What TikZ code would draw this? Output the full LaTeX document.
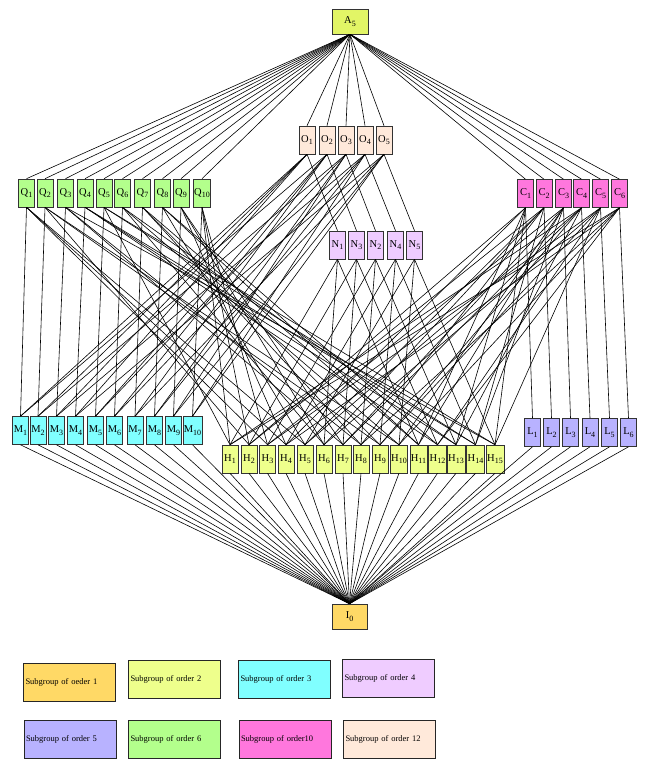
\documentclass[tikz,border=0pt]{standalone}
\usepackage{fontspec}
\setmainfont{Liberation Serif}
\definecolor{ordone}{HTML}{FFD966}
\definecolor{ordtwo}{HTML}{EEFF8C}
\definecolor{ordthree}{HTML}{80FFFF}
\definecolor{ordfour}{HTML}{EFCCFF}
\definecolor{ordfive}{HTML}{B8B2FF}
\definecolor{ordsix}{HTML}{B3FF8C}
\definecolor{ordten}{HTML}{FF77DD}
\definecolor{ordtwelve}{HTML}{FFE9DA}
\definecolor{ordsixty}{HTML}{E2F566}
\newcommand\sg[2]{#1\raisebox{-.5ex}{\fontsize{8}{8}\selectfont#2}}
\tikzset{
  grp/.style={draw=black!80, line width=.6pt, minimum width=16pt, minimum height=28pt, inner sep=1pt, font=\fontsize{10.5}{12}\selectfont},
  key/.style={draw=black!85, line width=.7pt, text width=88pt, minimum height=38pt, inner sep=2pt, align=left, font=\fontsize{8.5}{10}\selectfont},
  hasse/.style={line width=.6pt}
}

\begin{document}
\begin{tikzpicture}[x=1pt,y=-1pt]
\useasboundingbox (0,0) rectangle (646,767);
\node[grp, fill=ordsixty, minimum width=36pt, minimum height=25pt] (A) at (350,21.5) {\sg{A}{5}};
\foreach \x [count=\i] in {307,327,346,365,384}
  \node[grp, fill=ordtwelve] (O\i) at (\x,140) {\sg{O}{\i}};
\foreach \x [count=\i] in {26.5,45,65.5,85,104,122.5,142.5,162.5,181,202}
  \node[grp, fill=ordsix] (Q\i) at (\x,193) {\sg{Q}{\i}};
\foreach \x [count=\i] in {525.5,544,563.5,581.5,600.5,619.5}
  \node[grp, fill=ordten] (C\i) at (\x,193.5) {\sg{C}{\i}};
\foreach \x/\i in {337.5/1,356.5/3,375.5/2,395.5/4,414.5/5}
  \node[grp, fill=ordfour] (N\i) at (\x,245) {\sg{N}{\i}};
\foreach \x [count=\i] in {20.5,38,56.5,75.5,95.5,114.5,135,154.5,173.5,192.5}
  \node[grp, fill=ordthree] (M\i) at (\x,430.5) {\sg{M}{\i}};
\foreach \x [count=\i] in {230,249,267.5,286,305,324,343,361,380,399,418.5,437.5,456,475.5,495}
  \node[grp, fill=ordtwo] (H\i) at (\x,459) {\sg{H}{\i}};
\foreach \x [count=\i] in {532.5,551.5,570.5,590,609.5,628.5}
  \node[grp, fill=ordfive] (L\i) at (\x,432.5) {\sg{L}{\i}};
\node[grp, fill=ordone, minimum width=35pt, minimum height=25pt] (I) at (349.5,616.5) {\sg{I}{0}};

\foreach \i in {1,...,10} \draw[hasse] (A.south) -- (Q\i.north);
\foreach \i in {1,...,5} \draw[hasse] (A.south) -- (O\i.north);
\foreach \i in {1,...,6} \draw[hasse] (A.south) -- (C\i.north);
\foreach \o/\n in {1/1,2/3,3/2,4/4,5/5} \draw[hasse] (O\o.south) -- (N\n.north);
\foreach \o/\ms in {1/{1,2,3,4},2/{1,5,6,7},3/{2,5,8,9},4/{3,6,8,10},5/{4,7,9,10}}
  \foreach \m in \ms \draw[hasse] (O\o.south) -- (M\m.north);
\foreach \i in {1,...,10} \draw[hasse] (Q\i.south) -- (M\i.north);
\foreach \q/\hs in {1/{3,4,5},2/{2,9,10},3/{7,8,15},4/{12,13,14},5/{1,14,15},6/{6,10,13},7/{8,9,11},8/{5,11,12},9/{4,6,7},10/{1,2,3}}
  \foreach \h in \hs \draw[hasse] (Q\q.south) -- (H\h.north);
\foreach \i in {1,...,6} \draw[hasse] (C\i.south) -- (L\i.north);
\foreach \c/\hs in {1/{2,4,11,13,15},2/{2,5,6,8,14},3/{3,7,10,11,14},4/{1,5,7,9,13},5/{3,6,9,12,15},6/{1,4,8,10,12}}
  \foreach \h in \hs \draw[hasse] (C\c.south) -- (H\h.north);
\foreach \n/\hs in {1/{1,6,11},3/{2,7,12},2/{3,8,13},4/{4,9,14},5/{5,10,15}}
  \foreach \h in \hs \draw[hasse] (N\n.south) -- (H\h.north);
\foreach \i in {1,...,10} \draw[hasse] (M\i.south) -- (I.north);
\foreach \i in {1,...,15} \draw[hasse] (H\i.south) -- (I.north);
\foreach \i in {1,...,6} \draw[hasse] (L\i.south) -- (I.north);

\node[key, fill=ordone] (k1) at (69.5,682) {Subgroup of oeder 1};
\node[key, fill=ordtwo] (k2) at (174.5,679) {Subgroup of order 2};
\node[key, fill=ordthree] (k3) at (284.5,679) {Subgroup of order 3};
\node[key, fill=ordfour] (k4) at (388.5,678) {Subgroup of order 4};
\node[key, fill=ordfive] (k5) at (70,739) {Subgroup of order 5};
\node[key, fill=ordsix] (k6) at (174.5,739) {Subgroup of order 6};
\node[key, fill=ordten] (k7) at (285,739.5) {Subgroup of order10};
\node[key, fill=ordtwelve] (k8) at (389.5,739.5) {Subgroup of order 12};
\end{tikzpicture}
\end{document}
